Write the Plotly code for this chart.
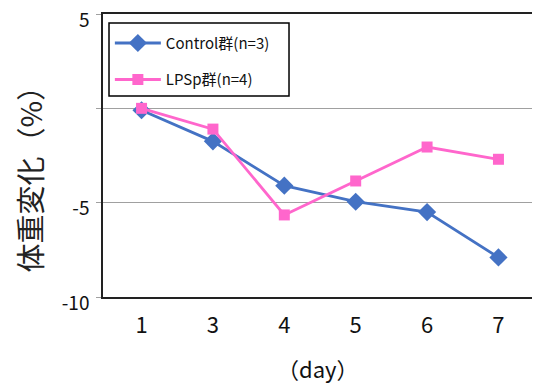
import plotly.graph_objects as go

days = ["1", "3", "4", "5", "6", "7"]
control = [-0.1, -1.75, -4.1, -4.95, -5.5, -7.9]
lpsp = [0.0, -1.1, -5.65, -3.85, -2.05, -2.7]
ytick_vals = [5, 0, -5, -10]
ytick_text = ["5", "", "-5", "-10"]

font_family = "Noto Sans CJK JP, Noto Sans, sans-serif"

fig = go.Figure()
fig.add_trace(go.Scatter(
    x=days, y=control, name="Control群(n=3)", mode="lines+markers",
    legendgroup="a",
    line=dict(color="#4472C4", width=2.8),
    marker=dict(symbol="diamond", size=14, color="#4472C4"),
))
fig.add_trace(go.Scatter(
    x=days, y=lpsp, name="LPSp群(n=4)", mode="lines+markers",
    legendgroup="b",
    line=dict(color="#FF66CC", width=2.8),
    marker=dict(symbol="square", size=11, color="#FF66CC"),
))

# page body has an 8px margin, so the figure is 532x382 placed at (8, 8)
fig.update_layout(
    width=532, height=382,
    margin=dict(l=95, r=8, t=6, b=93),
    paper_bgcolor="white", plot_bgcolor="white",
    font=dict(family=font_family, color="#111111"),
    showlegend=True,
    legend=dict(
        x=0.016, y=0.955, xanchor="left", yanchor="top",
        borderwidth=0, bgcolor="rgba(0,0,0,0)",
        font=dict(size=15, color="#111111"),
        itemwidth=46, tracegroupgap=14,
    ),
    shapes=[
        dict(type="rect", xref="paper", yref="paper",
             x0=0.014, x1=0.4336, y0=0.71, y1=0.968,
             line=dict(color="black", width=1.5), fillcolor="white", layer="below"),
    ],
    xaxis=dict(
        type="category", range=[-0.54, 5.47], automargin=False,
        showline=True, linecolor="#222222", linewidth=1.5, mirror=True,
        showgrid=False, ticks="", tickfont=dict(size=22, color="#111111"),
        ticklabelstandoff=8,
    ),
    yaxis=dict(
        range=[-10, 5.001], tickvals=ytick_vals, ticktext=ytick_text,
        automargin=False, ticklabeloverflow="allow",
        showline=True, linecolor="#222222", linewidth=1.5, mirror=True,
        showgrid=True, gridcolor="#A0A0A0", gridwidth=1,
        ticks="outside", ticklen=5, tickcolor="#A0A0A0",
        tickfont=dict(size=19, color="#111111"), zeroline=False,
        ticklabelstandoff=3, ticklabelshift=6,
    ),
    annotations=[
        dict(text="（day）", xref="paper", yref="paper", x=0.5, y=-0.25,
             xanchor="center", yanchor="middle", showarrow=False,
             font=dict(size=22, color="#111111")),
        dict(text="体重変化（%）", xref="paper", yref="paper", x=-0.17, y=0.44,
             xanchor="center", yanchor="middle", showarrow=False, textangle=-90,
             xshift=-1,
             font=dict(size=29, color="#222222")),
    ],
)

fig.write_html("out.html")
